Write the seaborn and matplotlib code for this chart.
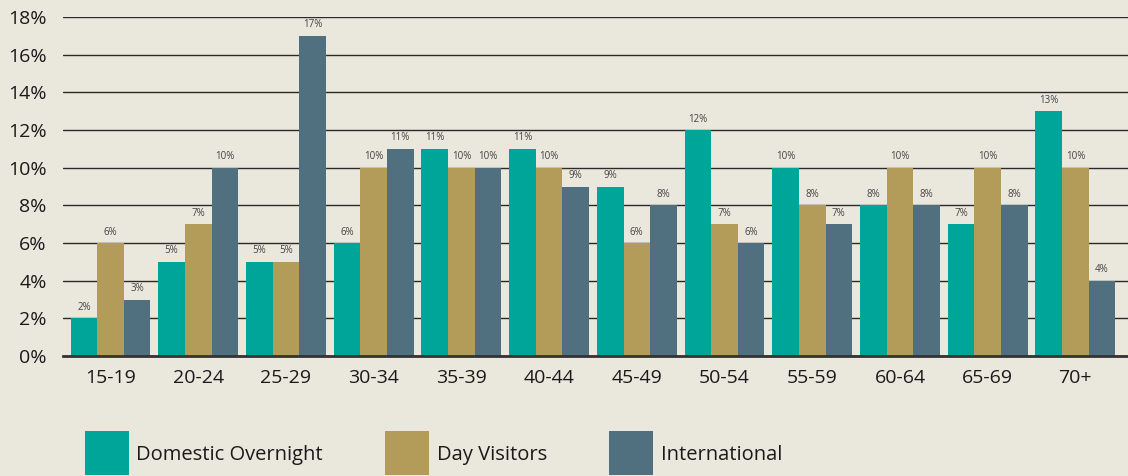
import seaborn as sns
import matplotlib
matplotlib.use('Agg')
import matplotlib.pyplot as plt
from matplotlib.lines import Line2D
import pandas as pd

age_groups = ['15-19', '20-24', '25-29', '30-34', '35-39', '40-44',
              '45-49', '50-54', '55-59', '60-64', '65-69', '70+']
domestic_overnight = [2, 5, 5, 6, 11, 11, 9, 12, 10, 8, 7, 13]
day_visitors = [6, 7, 5, 10, 10, 10, 6, 7, 8, 10, 10, 10]
international = [3, 10, 17, 11, 10, 9, 8, 6, 7, 8, 8, 4]
series_names = ['Domestic Overnight', 'Day Visitors', 'International']
colors = ['#00A59A', '#B39B5A', '#50707F']
bg = '#EAE7DD'

df = pd.DataFrame({
    'age': age_groups * 3,
    'share': domestic_overnight + day_visitors + international,
    'type': [s for s in series_names for _ in age_groups],
})

sns.set_style('white')
plt.rcParams['font.family'] = ['Open Sans', 'DejaVu Sans']

fig = plt.figure(figsize=(11.28, 4.76), dpi=100, facecolor=bg)
ax = fig.add_axes([0.056, 0.252, 0.944, 0.712], facecolor=bg)

sns.barplot(data=df, x='age', y='share', hue='type', palette=colors,
            width=0.91, saturation=1, linewidth=0, legend=False, ax=ax)

for cont in ax.containers:
    ax.bar_label(cont, fmt='%d%%', padding=4, fontsize=7, color='#444444')

ax.set_ylim(0, 18)
ax.set_xlim(-0.54, 11.6)
ax.set_yticks(range(0, 19, 2))
ax.set_yticklabels([f'{v}%' for v in range(0, 19, 2)])
ax.yaxis.grid(True, color='#2a2a2a', linewidth=1)
ax.set_axisbelow(True)
for s in ['left', 'right', 'top']:
    ax.spines[s].set_visible(False)
ax.spines['bottom'].set_color('#333333')
ax.spines['bottom'].set_linewidth(2)
ax.tick_params(axis='y', length=0, pad=12, labelsize=14, labelcolor='#1a1a1a')
ax.tick_params(axis='x', length=0, pad=9, labelsize=14, labelcolor='#1a1a1a')
ax.set_xlabel('')
ax.set_ylabel('')

# legend with square swatches
handles = [Line2D([], [], linestyle='none', marker='s', markersize=32,
                  markerfacecolor=c, markeredgewidth=0) for c in colors]
fig.legend(handles, series_names, loc='center left', bbox_to_anchor=(0.077, 0.045),
           ncol=3, frameon=False, fontsize=14.5, handlelength=2.0,
           handletextpad=0.45, columnspacing=3.2, labelcolor='#1a1a1a',
           borderpad=0, borderaxespad=0)

fig.savefig('out.png', dpi=100, facecolor=bg)
